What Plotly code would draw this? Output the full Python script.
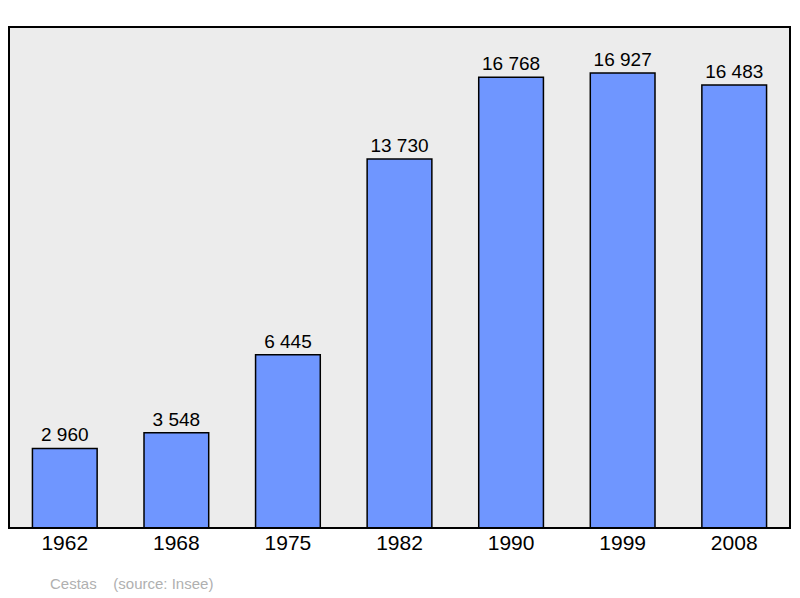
import plotly.graph_objects as go

years = ['1962', '1968', '1975', '1982', '1990', '1999', '2008']
population = [2960, 3548, 6445, 13730, 16768, 16927, 16483]
labels = ['{:,}'.format(v).replace(',', ' ') for v in population]

fig = go.Figure(go.Bar(
    x=years, y=population, text=labels, textposition='outside',
    textfont=dict(size=19, color='black'),
    marker=dict(color='#6f96ff', line=dict(color='black', width=1.5)),
    width=0.58, cliponaxis=False))

fig.update_layout(
    width=790, height=590,
    margin=dict(l=1, r=8, t=19, b=70),
    plot_bgcolor='#ececec', paper_bgcolor='white',
    font=dict(family='Liberation Sans, Arial, sans-serif', color='black'),
    showlegend=False,
    xaxis=dict(tickfont=dict(size=21), showgrid=False, ticks='', ticklen=8),
    yaxis=dict(range=[0, 18640], visible=False, showgrid=False),
    shapes=[dict(type='rect', xref='paper', yref='paper', x0=0, x1=1, y0=0, y1=1,
                 line=dict(color='black', width=2))],
    annotations=[dict(text='Cestas    (source: Insee)', xref='paper', yref='paper',
                      x=0.05, y=-0.11, xanchor='left', yanchor='middle', showarrow=False,
                      font=dict(size=15, color='#b0b0b0'))])

fig.write_html('out.html')
